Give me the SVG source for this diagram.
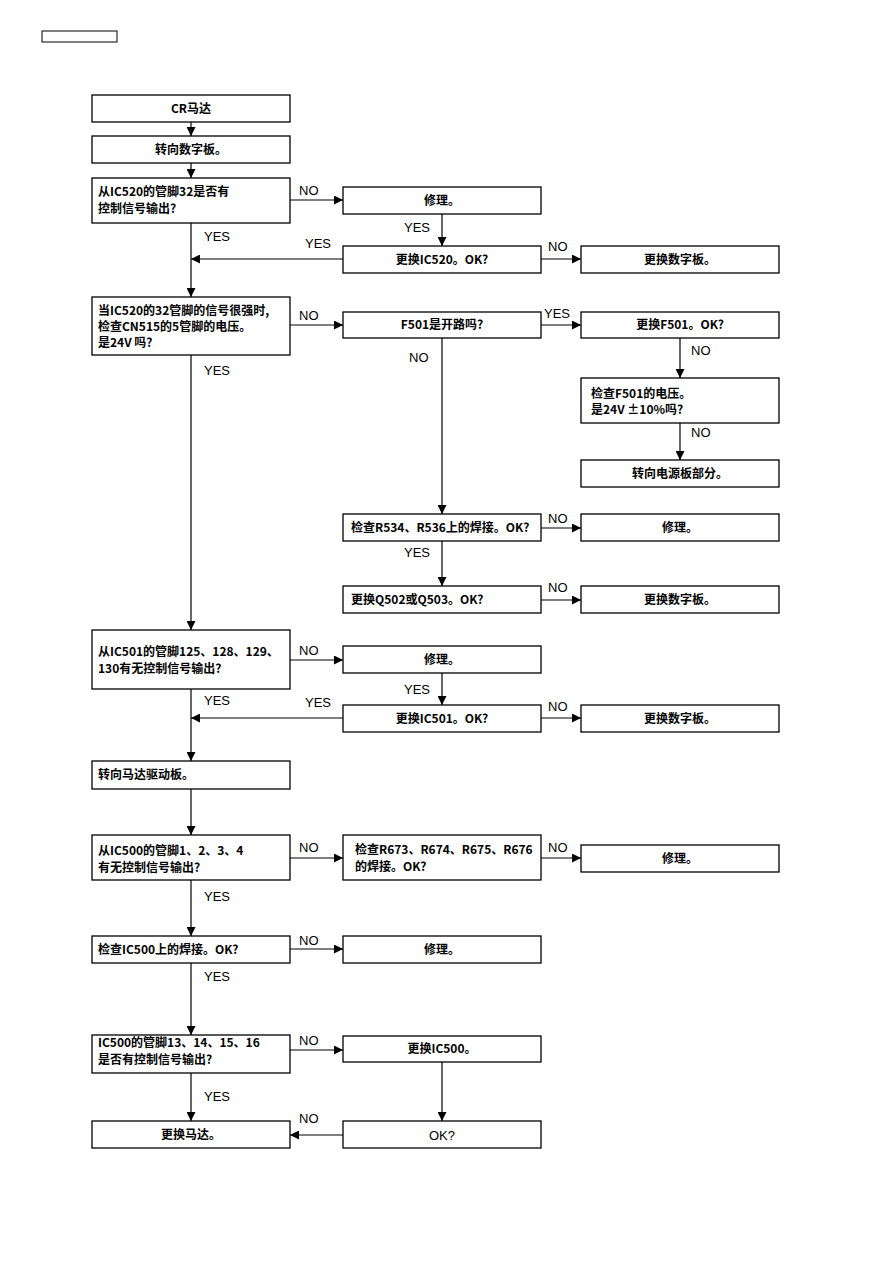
<svg xmlns="http://www.w3.org/2000/svg" width="893" height="1263" viewBox="0 0 893 1263">
<defs>
<marker id="ah" viewBox="0 0 10 10" refX="10" refY="5" markerWidth="9" markerHeight="9" markerUnits="userSpaceOnUse" orient="auto">
<path d="M0,0 L10,5 L0,10 z" fill="#000"/>
</marker>
<style>
.b{fill:#fff;stroke:#000;stroke-width:1.3}
.t{font-family:"Noto Sans CJK SC","Liberation Sans",sans-serif;font-size:12px;font-weight:bold;fill:#000}
.c{text-anchor:middle}
.l{font-family:"Liberation Sans",Arial,sans-serif;font-size:13px;fill:#000}
.e{fill:none;stroke:#000;stroke-width:1.2}
.a{marker-end:url(#ah)}
</style>
</defs>
<rect width="893" height="1263" fill="#fff"/>
<rect x="42" y="31" width="75" height="11" fill="#fff" stroke="#000" stroke-width="1"/>

<g id="connectors">
<line class="e a" x1="191" y1="122" x2="191" y2="136"/>
<line class="e a" x1="191" y1="163" x2="191" y2="178"/>
<line class="e a" x1="290" y1="200" x2="343" y2="200"/>
<line class="e a" x1="442" y1="214" x2="442" y2="246"/>
<line class="e a" x1="343" y1="259" x2="191" y2="259"/>
<line class="e a" x1="541" y1="259" x2="581" y2="259"/>
<line class="e a" x1="191" y1="223" x2="191" y2="297"/>
<line class="e a" x1="290" y1="325" x2="343" y2="325"/>
<line class="e a" x1="541" y1="325" x2="581" y2="325"/>
<line class="e a" x1="680" y1="338" x2="680" y2="378"/>
<line class="e a" x1="680" y1="423" x2="680" y2="460"/>
<line class="e a" x1="442" y1="338" x2="442" y2="514"/>
<line class="e a" x1="541" y1="528" x2="581" y2="528"/>
<line class="e a" x1="442" y1="541" x2="442" y2="586"/>
<line class="e a" x1="541" y1="600" x2="581" y2="600"/>
<line class="e a" x1="191" y1="355" x2="191" y2="630"/>
<line class="e a" x1="290" y1="660" x2="343" y2="660"/>
<line class="e a" x1="442" y1="673" x2="442" y2="705"/>
<line class="e a" x1="343" y1="718" x2="191" y2="718"/>
<line class="e a" x1="541" y1="718" x2="581" y2="718"/>
<line class="e a" x1="191" y1="689" x2="191" y2="761"/>
<line class="e a" x1="191" y1="789" x2="191" y2="835"/>
<line class="e a" x1="290" y1="858" x2="343" y2="858"/>
<line class="e a" x1="541" y1="858" x2="581" y2="858"/>
<line class="e a" x1="191" y1="880" x2="191" y2="936"/>
<line class="e a" x1="290" y1="949" x2="343" y2="949"/>
<line class="e a" x1="191" y1="963" x2="191" y2="1035"/>
<line class="e a" x1="290" y1="1050" x2="343" y2="1050"/>
<line class="e a" x1="442" y1="1062" x2="442" y2="1121"/>
<line class="e a" x1="191" y1="1073" x2="191" y2="1121"/>
<line class="e a" x1="343" y1="1135" x2="290" y2="1135"/>

<text class="l" x="299" y="195">NO</text>
<text class="l" x="404" y="232">YES</text>
<text class="l" x="305" y="248">YES</text>
<text class="l" x="548" y="251">NO</text>
<text class="l" x="204" y="241">YES</text>
<text class="l" x="299" y="320">NO</text>
<text class="l" x="544" y="318">YES</text>
<text class="l" x="691" y="355">NO</text>
<text class="l" x="691" y="437">NO</text>
<text class="l" x="409" y="362">NO</text>
<text class="l" x="548" y="523">NO</text>
<text class="l" x="404" y="557">YES</text>
<text class="l" x="548" y="592">NO</text>
<text class="l" x="204" y="375">YES</text>
<text class="l" x="299" y="655">NO</text>
<text class="l" x="404" y="694">YES</text>
<text class="l" x="305" y="707">YES</text>
<text class="l" x="548" y="711">NO</text>
<text class="l" x="204" y="705">YES</text>
<text class="l" x="299" y="852">NO</text>
<text class="l" x="548" y="852">NO</text>
<text class="l" x="204" y="901">YES</text>
<text class="l" x="299" y="945">NO</text>
<text class="l" x="204" y="981">YES</text>
<text class="l" x="299" y="1045">NO</text>
<text class="l" x="204" y="1101">YES</text>
<text class="l" x="299" y="1123">NO</text>
</g>

<g id="n1"><rect class="b" x="92" y="95" width="198" height="27"/><text class="t c" x="191" y="113">CR马达</text></g>
<g id="n2"><rect class="b" x="92" y="136" width="198" height="27"/><text class="t c" x="191" y="154">转向数字板。</text></g>
<g id="n3"><rect class="b" x="92" y="178" width="198" height="45"/><text class="t" x="98" y="196">从IC520的管脚32是否有</text><text class="t" x="98" y="213">控制信号输出?</text></g>
<g id="n4"><rect class="b" x="343" y="187" width="198" height="27"/><text class="t c" x="442" y="205">修理。</text></g>
<g id="n5"><rect class="b" x="343" y="246" width="198" height="27"/><text class="t c" x="442" y="264">更换IC520。OK?</text></g>
<g id="n6"><rect class="b" x="581" y="246" width="198" height="27"/><text class="t c" x="680" y="264">更换数字板。</text></g>
<g id="n7"><rect class="b" x="92" y="297" width="198" height="58"/><text class="t" x="98" y="315">当IC520的32管脚的信号很强时,</text><text class="t" x="98" y="331">检查CN515的5管脚的电压。</text><text class="t" x="98" y="347">是24V 吗?</text></g>
<g id="n8"><rect class="b" x="343" y="312" width="198" height="26"/><text class="t c" x="442" y="329">F501是开路吗?</text></g>
<g id="n9"><rect class="b" x="581" y="312" width="198" height="26"/><text class="t c" x="680" y="329">更换F501。OK?</text></g>
<g id="n10"><rect class="b" x="581" y="378" width="198" height="45"/><text class="t" x="591" y="398">检查F501的电压。</text><text class="t" x="591" y="414">是24V ±10%吗?</text></g>
<g id="n11"><rect class="b" x="581" y="460" width="198" height="27"/><text class="t c" x="680" y="478">转向电源板部分。</text></g>
<g id="n12"><rect class="b" x="343" y="514" width="198" height="27"/><text class="t" x="351" y="532">检查R534、R536上的焊接。OK?</text></g>
<g id="n13"><rect class="b" x="581" y="514" width="198" height="27"/><text class="t c" x="680" y="532">修理。</text></g>
<g id="n14"><rect class="b" x="343" y="586" width="198" height="27"/><text class="t" x="351" y="604">更换Q502或Q503。OK?</text></g>
<g id="n15"><rect class="b" x="581" y="586" width="198" height="27"/><text class="t c" x="680" y="604">更换数字板。</text></g>
<g id="n16"><rect class="b" x="92" y="630" width="198" height="59"/><text class="t" x="98" y="656">从IC501的管脚125、128、129、</text><text class="t" x="98" y="673">130有无控制信号输出?</text></g>
<g id="n17"><rect class="b" x="343" y="646" width="198" height="27"/><text class="t c" x="442" y="664">修理。</text></g>
<g id="n18"><rect class="b" x="343" y="705" width="198" height="27"/><text class="t c" x="442" y="723">更换IC501。OK?</text></g>
<g id="n19"><rect class="b" x="581" y="705" width="198" height="27"/><text class="t c" x="680" y="723">更换数字板。</text></g>
<g id="n20"><rect class="b" x="92" y="761" width="198" height="28"/><text class="t" x="98" y="779">转向马达驱动板。</text></g>
<g id="n21"><rect class="b" x="92" y="835" width="198" height="45"/><text class="t" x="98" y="855">从IC500的管脚1、2、3、4</text><text class="t" x="98" y="872">有无控制信号输出?</text></g>
<g id="n22"><rect class="b" x="343" y="835" width="198" height="45"/><text class="t" x="355" y="854">检查R673、R674、R675、R676</text><text class="t" x="355" y="871">的焊接。OK?</text></g>
<g id="n23"><rect class="b" x="581" y="845" width="198" height="27"/><text class="t c" x="680" y="863">修理。</text></g>
<g id="n24"><rect class="b" x="92" y="936" width="198" height="27"/><text class="t" x="98" y="954">检查IC500上的焊接。OK?</text></g>
<g id="n25"><rect class="b" x="343" y="936" width="198" height="27"/><text class="t c" x="442" y="954">修理。</text></g>
<g id="n26"><rect class="b" x="92" y="1035" width="198" height="38"/><text class="t" x="98" y="1047">IC500的管脚13、14、15、16</text><text class="t" x="98" y="1064">是否有控制信号输出?</text></g>
<g id="n27"><rect class="b" x="343" y="1036" width="198" height="26"/><text class="t c" x="442" y="1053">更换IC500。</text></g>
<g id="n28"><rect class="b" x="92" y="1121" width="198" height="27"/><text class="t c" x="191" y="1139">更换马达。</text></g>
<g id="n29"><rect class="b" x="343" y="1121" width="198" height="27"/><text class="l c" x="442" y="1140">OK?</text></g>
</svg>
